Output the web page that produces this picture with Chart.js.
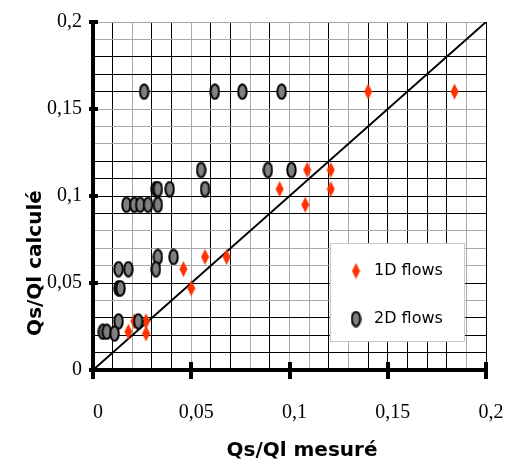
<!DOCTYPE html>
<html>
<head>
<meta charset="utf-8">
<script src="https://cdn.jsdelivr.net/npm/chart.js@4.4.1/dist/chart.umd.min.js"></script>
<style>
  html, body { margin: 0; padding: 0; background: #fff; }
  #wrap { width: 509px; height: 466px; }
</style>
</head>
<body>
<div id="wrap"><canvas id="c" width="509" height="466"></canvas></div>
<script>
// Measured vs computed sediment ratio Qs/Ql
const flows1D = [
  [0.140, 0.160], [0.184, 0.160],
  [0.109, 0.115], [0.121, 0.115],
  [0.095, 0.104], [0.121, 0.104],
  [0.108, 0.095],
  [0.057, 0.065], [0.068, 0.065],
  [0.046, 0.058], [0.050, 0.047],
  [0.018, 0.022], [0.021, 0.028], [0.027, 0.028], [0.027, 0.021]
];
const flows2D = [
  [0.026, 0.160], [0.062, 0.160], [0.076, 0.160], [0.096, 0.160],
  [0.055, 0.115], [0.089, 0.115], [0.101, 0.115],
  [0.032, 0.104], [0.033, 0.104], [0.039, 0.104], [0.057, 0.104],
  [0.017, 0.095], [0.021, 0.095], [0.024, 0.095], [0.028, 0.095], [0.033, 0.095],
  [0.033, 0.065], [0.041, 0.065],
  [0.013, 0.058], [0.018, 0.058], [0.032, 0.058],
  [0.013, 0.047], [0.014, 0.047],
  [0.013, 0.028], [0.023, 0.028],
  [0.005, 0.022], [0.007, 0.022], [0.011, 0.021]
];
const identityLine = [[0, 0], [0.2, 0.2]];
const seriesNames = ['1D flows', '2D flows'];
const axisTitles = { x: 'Qs/Ql mesuré', y: 'Qs/Ql calculé' };
const labelledTicks = [0, 0.05, 0.1, 0.15, 0.2];

const toXY = arr => arr.map(([x, y]) => ({ x, y }));

// marker sprites
function diamondSprite() {
  const c = document.createElement('canvas');
  c.width = 9; c.height = 17;
  const g = c.getContext('2d');
  g.fillStyle = '#ff3300';
  g.beginPath();
  g.moveTo(4.5, 0.5); g.lineTo(8.5, 8.5); g.lineTo(4.5, 16.5); g.lineTo(0.5, 8.5);
  g.closePath(); g.fill();
  return c;
}
function ellipseSprite() {
  const c = document.createElement('canvas');
  c.width = 11; c.height = 17;
  const g = c.getContext('2d');
  g.fillStyle = '#808080';
  g.strokeStyle = '#000';
  g.lineWidth = 2;
  g.beginPath();
  g.ellipse(5.5, 8.5, 4.2, 7.3, 0, 0, Math.PI * 2);
  g.fill(); g.stroke();
  return c;
}
const diamond = diamondSprite();
const ellipse = ellipseSprite();

const greyX = [2, 5, 8, 10, 11, 13, 19];
const greyY = [4, 6, 7, 8, 13, 14, 15, 19, 20];
const fmt = v => String(v).replace('.', ',');
const isLabelled = v => labelledTicks.some(t => Math.abs(t - v) < 1e-9);
const gridColor = list => c => list.includes(Math.round(c.tick.value * 100)) ? '#a8a8a8' : '#000';

// thick axis tick marks on both axes
const axisMarks = {
  id: 'axisMarks',
  afterDraw(chart) {
    const { ctx, scales: { x, y } } = chart;
    ctx.save();
    ctx.fillStyle = '#000';
    const y0 = y.getPixelForValue(0);
    const x0 = x.getPixelForValue(0);
    labelledTicks.forEach(v => {
      const px = x.getPixelForValue(v);
      ctx.fillRect(Math.round(px) - 2, Math.round(y0) - 8, 4, 17);
      const py = y.getPixelForValue(v);
      ctx.fillRect(Math.round(x0) - 4, Math.round(py) - 2, 9, 4);
    });
    ctx.restore();
  }
};

// axis titles
const axisTitlePlugin = {
  id: 'axisTitlePlugin',
  afterDraw(chart) {
    const { ctx, chartArea } = chart;
    ctx.save();
    ctx.fillStyle = '#000';
    ctx.font = 'bold 20px "Comic Sans MS", "DejaVu Sans", sans-serif';
    ctx.textAlign = 'center';
    ctx.textBaseline = 'middle';
    ctx.fillText(axisTitles.x, chartArea.left + 209, 451);
    ctx.translate(36, 263);
    ctx.rotate(-Math.PI / 2);
    ctx.fillText(axisTitles.y, 0, 0);
    ctx.restore();
  }
};

// boxed legend inside the plot, lower right
const boxLegend = {
  id: 'boxLegend',
  afterDraw(chart) {
    const { ctx, chartArea } = chart;
    const left = chartArea.left + 237, top = chartArea.top + 221;
    const w = 134, h = 98;
    ctx.save();
    ctx.fillStyle = '#fff';
    ctx.fillRect(left, top, w, h);
    ctx.strokeStyle = '#c8c8c8';
    ctx.lineWidth = 1;
    ctx.strokeRect(left + 0.5, top + 0.5, w, h);
    ctx.font = '16px "Comic Sans MS", "DejaVu Sans", sans-serif';
    ctx.fillStyle = '#000';
    ctx.textBaseline = 'middle';
    ctx.textAlign = 'left';
    const sprites = [diamond, ellipse];
    seriesNames.forEach((name, i) => {
      const cy = top + 28 + i * 48;
      const s = sprites[i];
      ctx.drawImage(s, left + 26 - s.width / 2, cy - s.height / 2);
      ctx.fillText(name, left + 44, cy);
    });
    ctx.restore();
  }
};

const tickFont = { family: '"Liberation Serif", "Times New Roman", serif', size: 20 };

new Chart(document.getElementById('c'), {
  type: 'scatter',
  data: {
    datasets: [
      {
        label: seriesNames[0],
        data: toXY(flows1D),
        pointStyle: diamond,
        order: 1
      },
      {
        label: seriesNames[1],
        data: toXY(flows2D),
        pointStyle: ellipse,
        order: 0
      },
      {
        type: 'line',
        label: 'y = x',
        data: toXY(identityLine),
        borderColor: '#000',
        borderWidth: 2,
        pointRadius: 0,
        fill: false,
        order: 2
      }
    ]
  },
  options: {
    responsive: false,
    animation: false,
    events: [],
    layout: { padding: { top: 22, right: 23, left: 0, bottom: 0 } },
    plugins: {
      legend: { display: false },
      tooltip: { enabled: false }
    },
    scales: {
      x: {
        type: 'linear',
        min: 0, max: 0.2,
        afterFit: s => { s.height = 96; },
        border: { display: true, width: 4, color: '#000' },
        grid: {
          drawTicks: true,
          tickLength: 29,
          tickColor: 'rgba(0,0,0,0)',
          lineWidth: 1,
          color: gridColor(greyX)
        },
        ticks: {
          stepSize: 0.01,
          autoSkip: false,
          maxRotation: 0,
          padding: 2,
          labelOffset: 5,
          color: '#000',
          font: tickFont,
          callback: v => isLabelled(v) ? fmt(Math.round(v * 100) / 100) : ''
        }
      },
      y: {
        type: 'linear',
        min: 0, max: 0.2,
        afterFit: s => { s.width = 93; },
        border: { display: true, width: 4, color: '#000' },
        grid: {
          drawTicks: true,
          tickLength: 9,
          tickColor: 'rgba(0,0,0,0)',
          lineWidth: 1,
          color: gridColor(greyY)
        },
        ticks: {
          stepSize: 0.01,
          autoSkip: false,
          padding: 2,
          color: '#000',
          font: tickFont,
          callback: v => isLabelled(v) ? fmt(Math.round(v * 100) / 100) : ''
        }
      }
    }
  },
  plugins: [axisMarks, axisTitlePlugin, boxLegend]
});
</script>
</body>
</html>
